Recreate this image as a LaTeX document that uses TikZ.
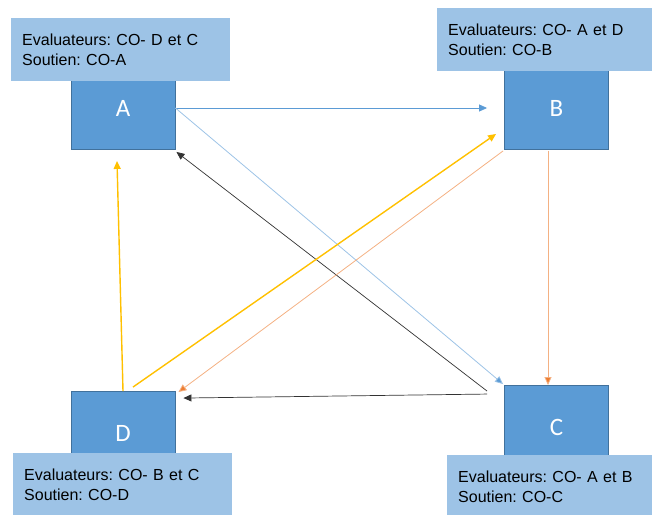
\documentclass[tikz,border=0pt]{standalone}
\usepackage{fontspec}
\setmainfont{Liberation Sans}
\newfontfamily\boxfont{Carlito}
\usetikzlibrary{arrows.meta,calc}
\frenchspacing
\definecolor{boxblue}{HTML}{5B9BD5}
\definecolor{boxedge}{HTML}{41719C}
\definecolor{lblblue}{HTML}{9DC3E6}
\definecolor{midblue}{HTML}{5B9BD5}
\definecolor{ltblue}{HTML}{9DC3E6}
\definecolor{orng}{HTML}{ED7D31}
\definecolor{ltorng}{HTML}{F4B183}
\definecolor{yel}{HTML}{FFC000}
\tikzset{
  cobox/.style={draw=boxedge, line width=0.9pt, fill=boxblue, minimum width=104pt, minimum height=83pt, inner sep=0pt, text=white, font=\boxfont\fontsize{25}{30}\selectfont},
  lblbox/.style={fill=lblblue, minimum width=219pt, minimum height=63pt, text width=197pt, inner xsep=11pt, inner ysep=0pt, align=left, font=\frenchspacing\fontsize{16}{20}\selectfont, anchor=north west},
  tip/.style={-{Triangle[length=8pt,width=7pt]}},
}
\begin{document}
\begin{tikzpicture}[x=1pt,y=-1pt]
\useasboundingbox (0,0) rectangle (652,514);
\clip (0,0) rectangle (652,514);
% boxes
\node[cobox] (A) at (123,108) {A};
\node[cobox] (B) at (556.5,108) {B};
\node[cobox] (C) at (556.5,427) {C};
\node[cobox] (D) at (123,433) {D};
% labels
\node[lblbox] (LA) at (11,18) {Evaluateurs: CO- D et C\\Soutien: CO-A};
\node[lblbox] (LB) at (437,8) {Evaluateurs: CO- A et D\\Soutien: CO-B};
\node[lblbox] (LD) at (13,453) {Evaluateurs: CO- B et C\\Soutien: CO-D};
\node[lblbox] (LC) at (447,455) {Evaluateurs: CO- A et B\\Soutien: CO-C};
% connectors
\draw[tip, midblue, line width=0.8pt, shorten >=17pt] (A.east) -- (B.west);
\draw[ltblue, line width=0.8pt, -{Triangle[length=8pt,width=7pt,fill=midblue]}] (A.east) -- ($(C.north west)+(-1,-1)$);
\draw[tip, black!80, line width=0.7pt] ($(C.north west)+(-17,6)$) -- ($(A.south east)+(1,2)$);
\draw[tip, black!80, line width=0.7pt] ($(C.north west)+(-17,9)$) -- ($(D.north east)+(8,7)$);
\draw[ltorng, line width=0.8pt, -{Triangle[length=8pt,width=7pt,fill=orng]}] ($(B.south west)+(-1,1)$) -- ($(D.north east)+(3,1)$);
\draw[tip, yel, line width=1.4pt] ($(D.north)+(10,-4)$) -- ($(B.south west)+(-8,-16)$);
\draw[tip, yel, line width=1.4pt] (D.north) -- ($(A.south)+(-6,11)$);
\draw[ltorng, line width=0.8pt, -{Triangle[length=8pt,width=7pt,fill=orng]}] ($(B.south)+(-8.5,1)$) -- ($(C.north)+(-8.5,0)$);
\end{tikzpicture}
\end{document}
